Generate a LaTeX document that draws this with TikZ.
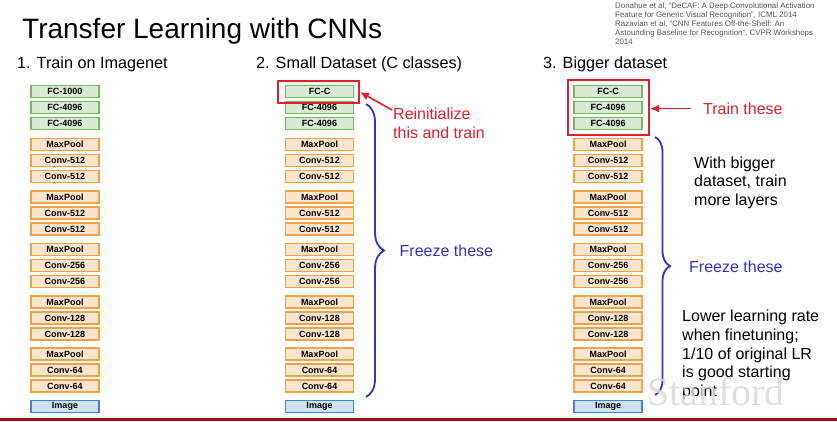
\documentclass[tikz,border=0pt]{standalone}
\usepackage{fontspec}
\setmainfont{Liberation Sans}
\newfontfamily\wmfont{Liberation Serif}
\usepackage{xcolor}
\usepackage{tikz}
\usetikzlibrary{arrows.meta,decorations.pathreplacing}

\definecolor{fcfill}{RGB}{217,234,211}
\definecolor{fcline}{RGB}{122,182,98}
\definecolor{convfill}{RGB}{252,229,205}
\definecolor{convline}{RGB}{240,162,72}
\definecolor{imgfill}{RGB}{207,226,243}
\definecolor{imgline}{RGB}{70,132,200}
\definecolor{trainred}{RGB}{222,32,42}
\definecolor{freezeblue}{RGB}{50,50,190}
\definecolor{citegray}{RGB}{85,85,85}
\definecolor{cardinal}{RGB}{140,21,21}

\tikzset{
  layer/.style={draw, line width=1.4pt, minimum width=68pt, minimum height=12pt, inner sep=0pt, font=\fontsize{9}{10}\selectfont\bfseries},
  fclayer/.style={layer, draw=fcline, fill=fcfill},
  convlayer/.style={layer, draw=convline, fill=convfill},
  imglayer/.style={layer, draw=imgline, fill=imgfill},
  redbox/.style={draw=trainred, line width=2pt, inner sep=0pt},
  redarrow/.style={draw=trainred, line width=1.6pt, -{Latex[length=9pt,width=8pt]}},
  freezebrace/.style={draw=freezeblue, line width=1.8pt, decorate},
  bodytext/.style={anchor=base west, inner sep=0pt, align=left, font=\fontsize{16}{18.8}\selectfont},
  headtext/.style={anchor=base west, inner sep=0pt, font=\fontsize{16.2}{18}\selectfont},
}

\begin{document}
\begin{tikzpicture}[x=1pt,y=1pt,yscale=-1,xscale=1]

\useasboundingbox (0,0) rectangle (837,421);

% headings (multi-line texts sit on the baseline of their last line)
\draw (22,38.5) node (title) [anchor=base west, inner sep=0pt, font=\fontsize{28}{30}\selectfont] {Transfer Learning with CNNs};

\draw (17,68.5) node (head1) [headtext] {1. Train on Imagenet};

\draw (256,68.5) node (head2) [headtext] {2. Small Dataset (C classes)};

\draw (543,68.5) node (head3) [headtext] {3. Bigger dataset};

\draw (615,44.7) node (cite) [anchor=base west, inner sep=0pt, align=left, text=citegray, font=\fontsize{7.9}{9.1}\selectfont] {Donahue et al, ``DeCAF: A Deep Convolutional Activation\\Feature for Generic Visual Recognition'', ICML 2014\\Razavian et al, ``CNN Features Off-the-Shelf: An\\Astounding Baseline for Recognition'', CVPR Workshops\\2014};

% column 1: network trained on Imagenet
\draw (65,91.5) node (a1) [fclayer] {FC-1000};
\draw (65,107.5) node (a2) [fclayer] {FC-4096};
\draw (65,123.5) node (a3) [fclayer] {FC-4096};
\draw (65,144.5) node (a4) [convlayer] {MaxPool};
\draw (65,160.5) node (a5) [convlayer] {Conv-512};
\draw (65,176.5) node (a6) [convlayer] {Conv-512};
\draw (65,197) node (a7) [convlayer] {MaxPool};
\draw (65,213) node (a8) [convlayer] {Conv-512};
\draw (65,229) node (a9) [convlayer] {Conv-512};
\draw (65,249.5) node (a10) [convlayer] {MaxPool};
\draw (65,265.5) node (a11) [convlayer] {Conv-256};
\draw (65,281.5) node (a12) [convlayer] {Conv-256};
\draw (65,302) node (a13) [convlayer] {MaxPool};
\draw (65,318) node (a14) [convlayer] {Conv-128};
\draw (65,334) node (a15) [convlayer] {Conv-128};
\draw (65,354) node (a16) [convlayer] {MaxPool};
\draw (65,370) node (a17) [convlayer] {Conv-64};
\draw (65,386) node (a18) [convlayer] {Conv-64};
\draw (65,406.5) node (a19) [imglayer] {Image};

% column 2: small dataset
\draw (319.5,91.5) node (b1) [fclayer] {FC-C};
\draw (319.5,107.5) node (b2) [fclayer] {FC-4096};
\draw (319.5,123.5) node (b3) [fclayer] {FC-4096};
\draw (319.5,144.5) node (b4) [convlayer] {MaxPool};
\draw (319.5,160.5) node (b5) [convlayer] {Conv-512};
\draw (319.5,176.5) node (b6) [convlayer] {Conv-512};
\draw (319.5,197) node (b7) [convlayer] {MaxPool};
\draw (319.5,213) node (b8) [convlayer] {Conv-512};
\draw (319.5,229) node (b9) [convlayer] {Conv-512};
\draw (319.5,249.5) node (b10) [convlayer] {MaxPool};
\draw (319.5,265.5) node (b11) [convlayer] {Conv-256};
\draw (319.5,281.5) node (b12) [convlayer] {Conv-256};
\draw (319.5,302) node (b13) [convlayer] {MaxPool};
\draw (319.5,318) node (b14) [convlayer] {Conv-128};
\draw (319.5,334) node (b15) [convlayer] {Conv-128};
\draw (319.5,354) node (b16) [convlayer] {MaxPool};
\draw (319.5,370) node (b17) [convlayer] {Conv-64};
\draw (319.5,386) node (b18) [convlayer] {Conv-64};
\draw (319.5,406.5) node (b19) [imglayer] {Image};

\draw (318.5,92) node (reinitbox) [redbox, minimum width=81pt, minimum height=22pt] {};

\draw (393,138.3) node (reinit) [bodytext, text=trainred] {Reinitialize\\this and train};

\coordinate (reinit-tail) at (392,110);
\draw [redarrow] (reinit-tail) -- (reinitbox.east);

\coordinate (freeze2-top) at (366,104);
\coordinate (freeze2-bot) at (366,397);
\draw [freezebrace, decoration={brace, amplitude=18pt}] (freeze2-top) -- (freeze2-bot);

\draw (399.5,256) node (freeze2) [bodytext, text=freezeblue] {Freeze these};

% column 3: bigger dataset
\draw (608,91.5) node (c1) [fclayer] {FC-C};
\draw (608,107.5) node (c2) [fclayer] {FC-4096};
\draw (608,123.5) node (c3) [fclayer] {FC-4096};
\draw (608,144.5) node (c4) [convlayer] {MaxPool};
\draw (608,160.5) node (c5) [convlayer] {Conv-512};
\draw (608,176.5) node (c6) [convlayer] {Conv-512};
\draw (608,197) node (c7) [convlayer] {MaxPool};
\draw (608,213) node (c8) [convlayer] {Conv-512};
\draw (608,229) node (c9) [convlayer] {Conv-512};
\draw (608,249.5) node (c10) [convlayer] {MaxPool};
\draw (608,265.5) node (c11) [convlayer] {Conv-256};
\draw (608,281.5) node (c12) [convlayer] {Conv-256};
\draw (608,302) node (c13) [convlayer] {MaxPool};
\draw (608,318) node (c14) [convlayer] {Conv-128};
\draw (608,334) node (c15) [convlayer] {Conv-128};
\draw (608,354) node (c16) [convlayer] {MaxPool};
\draw (608,370) node (c17) [convlayer] {Conv-64};
\draw (608,386) node (c18) [convlayer] {Conv-64};
\draw (608,406.5) node (c19) [imglayer] {Image};

\draw (608.5,107.5) node (trainbox) [redbox, minimum width=81pt, minimum height=55pt] {};

\draw (703,114.3) node (trainthese) [bodytext, text=trainred] {Train these};

\draw [redarrow, shorten <=12pt] (trainthese.west) -- (trainthese.west -| trainbox.east);

\coordinate (freeze3-top) at (655,137);
\coordinate (freeze3-bot) at (655,395);
\draw [freezebrace, decoration={brace, amplitude=15pt}] (freeze3-top) -- (freeze3-bot);

\draw (689,272.7) node (freeze3) [bodytext, text=freezeblue] {Freeze these};

\draw (694,205.7) node (bigger) [bodytext] {With bigger\\dataset, train\\more layers};

\draw (682,396.7) node (lowerlr) [bodytext] {Lower learning rate\\when finetuning;\\1/10 of original LR\\is good starting\\point};

% watermark and bottom bar
\draw (647,405) node (watermark) [anchor=base west, inner sep=0pt, text=black!15, opacity=0.85, font=\wmfont\fontsize{40}{42}\selectfont] {Stanford};

\fill [cardinal] (0,417.7) rectangle (837,421);

\end{tikzpicture}
\end{document}
